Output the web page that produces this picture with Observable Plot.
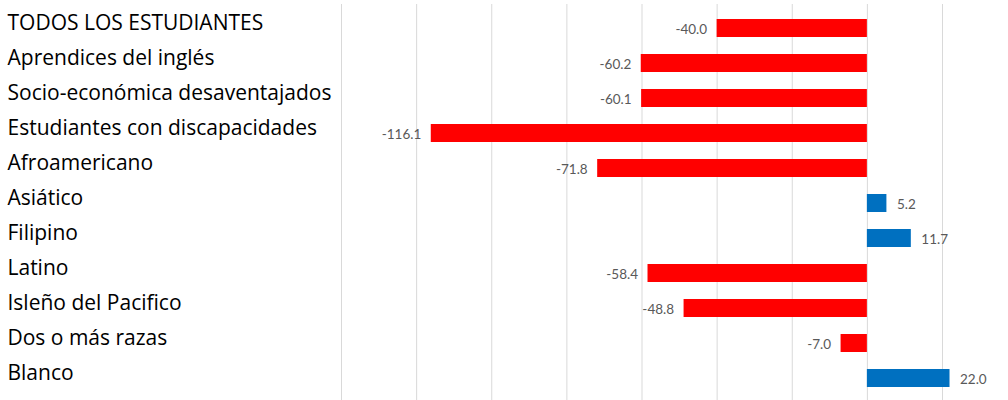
<!DOCTYPE html>
<html>
<head>
<meta charset="utf-8">
<script src="https://cdn.jsdelivr.net/npm/d3@7"></script>
<script src="https://cdn.jsdelivr.net/npm/@observablehq/plot@0.6"></script>
<style>
  html, body { margin: 0; padding: 0; background: #fff; }
  #chart svg { display: block; }
</style>
</head>
<body>
<div id="chart"></div>
<script>
const categories = [
  "TODOS LOS ESTUDIANTES",
  "Aprendices del inglés",
  "Socio-económica desaventajados",
  "Estudiantes con discapacidades",
  "Afroamericano",
  "Asiático",
  "Filipino",
  "Latino",
  "Isleño del Pacifico",
  "Dos o más razas",
  "Blanco"
];
const values = [-40.0, -60.2, -60.1, -116.1, -71.8, 5.2, 11.7, -58.4, -48.8, -7.0, 22.0];
const gridTicks = [-140, -120, -100, -80, -60, -40, -20, 0, 20];

const data = categories.map((c, i) => ({category: c, value: values[i]}));
const fmt = v => v.toFixed(1);

const chart = Plot.plot({
  width: 1008,
  height: 400,
  marginLeft: 341,
  marginRight: 66,
  marginTop: 4,
  marginBottom: 0,
  style: {fontFamily: "Lato, sans-serif", background: "#fff"},
  x: {domain: [-140, 20], axis: null},
  y: {domain: categories, range: [7, 399], paddingInner: 0.48, paddingOuter: 0.2, axis: null},
  marks: [
    Plot.ruleX(gridTicks, {stroke: "#d9d9d9", strokeWidth: 1}),
    Plot.barX(data, {
      x1: 0, x2: "value", y: "category",
      fill: d => d.value < 0 ? "neg" : "pos"
    }),
    Plot.text(data.filter(d => d.value < 0), {
      x: "value", y: "category", text: d => fmt(d.value),
      textAnchor: "end", dx: -10, dy: 1, fill: "#595959", fontSize: 13.5
    }),
    Plot.text(data.filter(d => d.value >= 0), {
      x: "value", y: "category", text: d => fmt(d.value),
      textAnchor: "start", dx: 10, dy: 1, fill: "#595959", fontSize: 13.5
    }),
    Plot.axisY({
      anchor: "left", tickSize: 0, textAnchor: "start", dx: -325, dy: -5,
      fontSize: 21, fontFamily: "'Open Sans', sans-serif", fill: "#000", label: null
    })
  ],
  color: {domain: ["neg", "pos"], range: ["#ff0000", "#0070c0"]}
});
document.getElementById("chart").appendChild(chart);
</script>
</body>
</html>
